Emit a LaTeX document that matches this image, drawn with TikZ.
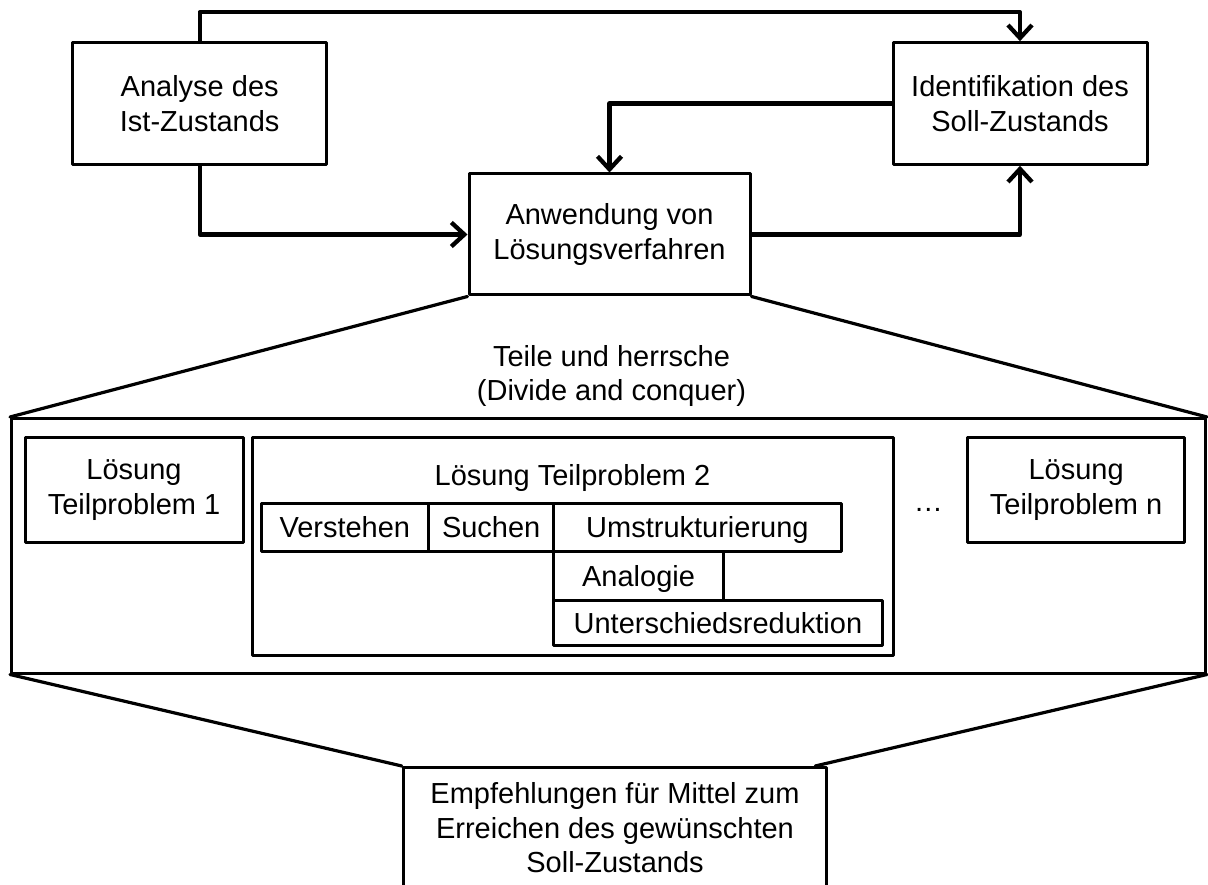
\documentclass[tikz,border=0pt]{standalone}
\usepackage{fontspec}
\setmainfont{Liberation Sans}
\usetikzlibrary{arrows.meta,calc}
\begin{document}
\begin{tikzpicture}[x=1pt,y=-1pt,
  txt/.style={font=\fontsize{29}{34.5}\selectfont, align=center},
  box/.style={txt, draw, rectangle, line width=3pt, inner sep=0pt, line join=round},
  oneline/.style={text height=21pt, text depth=0pt},
  flow/.style={line width=4.3pt, line join=round,
    -{Straight Barb[length=13pt,width=24pt,line join=miter]}},
  funnel/.style={line width=3.2pt, line cap=round},
  lbl/.style={txt, inner sep=0pt}
]
\useasboundingbox (0,0) rectangle (1208,885);
\clip (0,0) rectangle (1208,885);

% process steps
\node[box, minimum width=254pt, minimum height=121.6pt] (ana) at (199.7,103.5)
  {Analyse des\\Ist-Zustands};
\node[box, minimum width=254pt, minimum height=121.6pt] (ident) at (1020,103.5)
  {Identifikation des\\Soll-Zustands};
\node[box, minimum width=281pt, minimum height=121pt] (anw) at (609.5,234.5)
  {Anwendung von\\Lösungsverfahren};

% detail frame
\node[box, minimum width=1194pt, minimum height=254.5pt] (frame) at (608.5,545.75) {};
\node[lbl] (teile) at (611.5,376) {Teile und herrsche\\(Divide and conquer)};

\node[box, minimum width=218pt, minimum height=105pt] (tp1) at (134,490)
  {Lösung\\Teilproblem 1};
\node[box, minimum width=640.4pt, minimum height=217.7pt] (tp2) at (572.8,546.2) {};
\node[lbl, anchor=base] (tp2t) at (572.5,485) {Lösung Teilproblem 2};
\node[box, minimum width=217.2pt, minimum height=105pt] (tpn) at (1076.1,490.2)
  {Lösung\\Teilproblem n};
\node[lbl, anchor=base] (dots) at (928.3,511) {…};

% steps inside sub-problem 2
\node[box, oneline, minimum width=167.6pt, minimum height=47.7pt] (vers) at (344.8,527.2) {Verstehen};
\node[box, oneline, minimum width=125.2pt, minimum height=47.7pt] (such) at (491.2,527.2) {Suchen};
\node[box, oneline, minimum width=287.2pt, minimum height=47.7pt] (umst) at (697.4,527.2) {Umstrukturierung};
\node[box, oneline, minimum width=169.5pt, minimum height=49.7pt] (anal) at (638.55,575.85) {Analogie};
\node[box, oneline, minimum width=328.2pt, minimum height=45pt] (unte) at (717.9,623.2) {Unterschiedsreduktion};

% result
\node[box, minimum width=423.4pt, minimum height=121pt] (emp) at (615,828)
  {Empfehlungen für Mittel zum\\Erreichen des gewünschten\\Soll-Zustands};

% funnel lines
\draw[funnel] (anw.south west) -- (frame.north west);
\draw[funnel] (anw.south east) -- (frame.north east);
\draw[funnel] (frame.south west) -- (emp.north west);
\draw[funnel] (frame.south east) -- ($(emp.north east)+(-13,0)$);

% connectors
\draw[flow] (ana.north) -- ++(0,-29) -| (ident.north);
\draw[flow] (ana.south) |- (anw.west);
\draw[flow] (ident.west) -| (anw.north);
\draw[flow] (anw.east) -| (ident.south);
\end{tikzpicture}
\end{document}
